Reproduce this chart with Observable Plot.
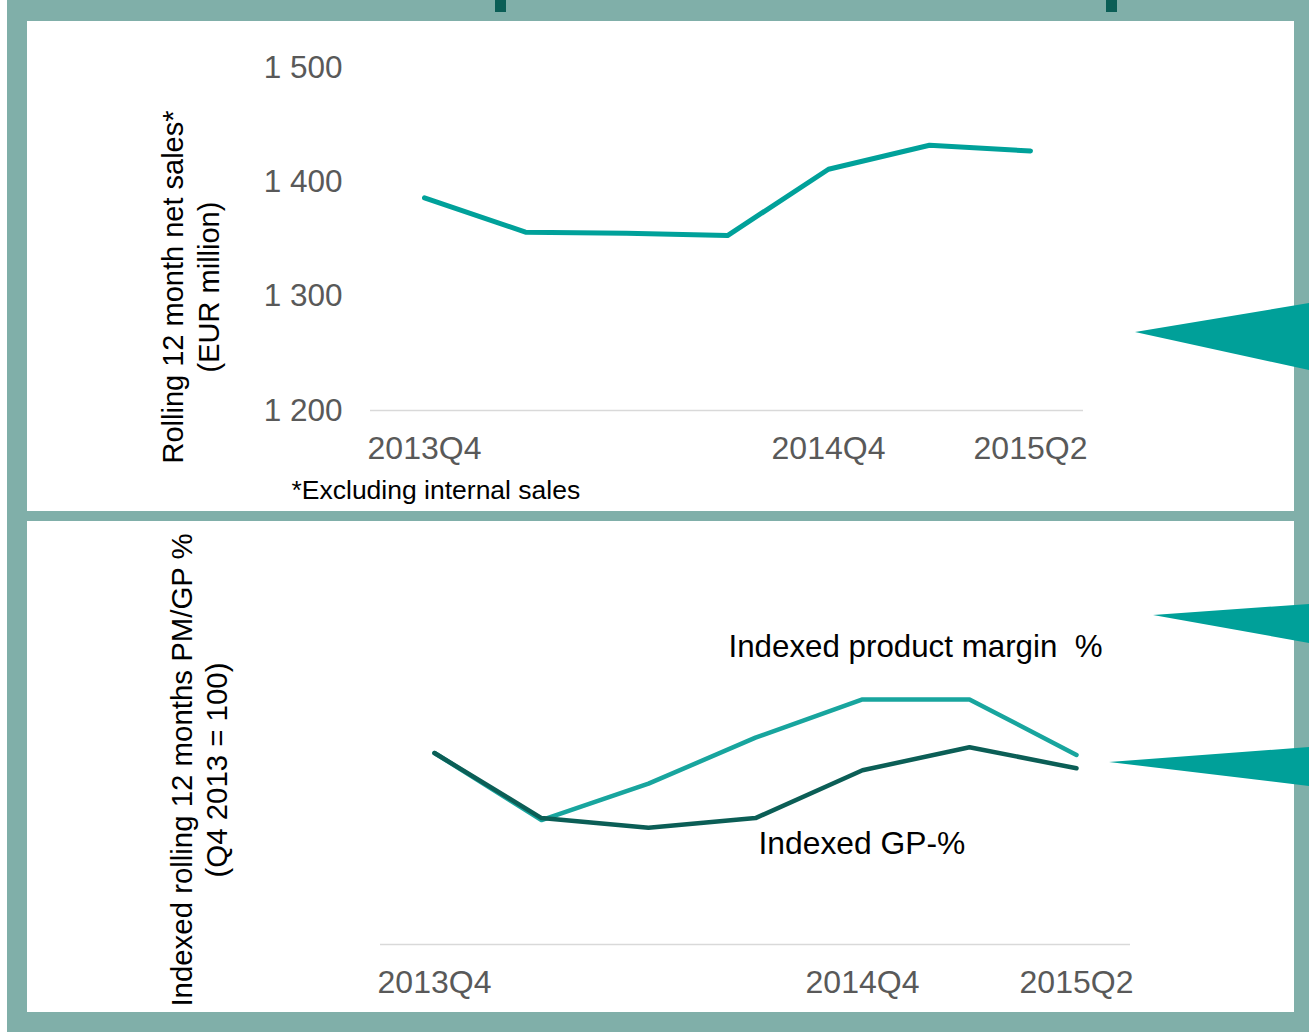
<!DOCTYPE html>
<html>
<head>
<meta charset="utf-8">
<script src="https://cdn.jsdelivr.net/npm/d3@7"></script>
<script src="https://cdn.jsdelivr.net/npm/@observablehq/plot@0.6"></script>
<style>
  html, body { margin: 0; padding: 0; background: #ffffff; }
  #page { position: relative; width: 1309px; height: 1032px; overflow: hidden; background: #ffffff; }
  .frame { position: absolute; left: 7px; top: 0; width: 1302px; height: 1032px; background: #80afa9; }
  .panel { position: absolute; left: 27px; width: 1267px; background: #ffffff; }
  #top { top: 21px; height: 490px; }
  #bottom { top: 521px; height: 491px; }
  .panel svg { display: block; }
  #deco { position: absolute; left: 0; top: 0; pointer-events: none; }
</style>
</head>
<body>
<div id="page">
  <div class="frame"></div>
  <div class="panel" id="top"></div>
  <div class="panel" id="bottom"></div>
</div>
<script>
// Quarters on the x axis and the ones that carry a label
const quarters = ["2013Q4", "2014Q1", "2014Q2", "2014Q3", "2014Q4", "2015Q1", "2015Q2"];
const labelledQuarters = ["2013Q4", "2014Q4", "2015Q2"];

// Rolling 12 month net sales, EUR million (excluding internal sales)
const netSales = [1386, 1356, 1355, 1353, 1411, 1432, 1427];
const salesTicks = [1200, 1300, 1400, 1500];

// Indexed rolling 12 month margins, Q4 2013 = 100
const productMargin = [100, 96.5, 98.4, 100.8, 102.8, 102.8, 99.9];
const grossProfit = [100, 96.6, 96.1, 96.6, 99.1, 100.3, 99.2];
const indexDomain = [90, 110];

const teal = "#00a19a";
const darkTeal = "#0b5e56";
const lightTeal = "#18a59e";
const grey = "#595959";
const font = "'Liberation Sans', Arial, sans-serif";

const spaced = d => d3.format(",")(d).replace(/,/g, " ");

// --- Net sales panel ---
const salesRows = quarters.map((q, i) => ({quarter: q, value: netSales[i]}));

const topChart = Plot.plot({
  width: 1267,
  height: 490,
  marginLeft: 343,
  marginRight: 211,
  marginTop: 46,
  marginBottom: 101,
  style: {fontFamily: font, background: "transparent", overflow: "visible"},
  x: {type: "point", domain: quarters, padding: 0.5},
  y: {domain: [1200, 1500]},
  marks: [
    Plot.ruleY([1200], {stroke: "#d9d9d9", strokeWidth: 1.5}),
    Plot.axisY(salesTicks, {tickSize: 0, tickPadding: 28, fontSize: 31.5, color: grey, tickFormat: spaced, label: null}),
    Plot.axisX(labelledQuarters, {tickSize: 0, tickPadding: 26, fontSize: 32, color: grey, label: null}),
    Plot.line(salesRows, {x: "quarter", y: "value", stroke: teal, strokeWidth: 5, strokeLinecap: "round", strokeLinejoin: "round"}),
    Plot.text(["Rolling 12 month net sales*\n(EUR million)"], {
      frameAnchor: "left", rotate: -90, textAnchor: "middle", lineHeight: 1.25,
      fontSize: 29, fill: "#000", dx: -181, dy: 48
    }),
    Plot.text(["*Excluding internal sales"], {
      frameAnchor: "bottom-left", textAnchor: "start", fontSize: 26.5, fill: "#000", dx: -79, dy: 88
    })
  ]
});
document.getElementById("top").append(topChart);

// --- Indexed margin panel ---
const marginRows = [
  ...quarters.map((q, i) => ({quarter: q, value: productMargin[i], series: "Indexed product margin  %"})),
  ...quarters.map((q, i) => ({quarter: q, value: grossProfit[i], series: "Indexed GP-%"}))
];

const bottomChart = Plot.plot({
  width: 1267,
  height: 491,
  marginLeft: 353,
  marginRight: 164,
  marginTop: 40,
  marginBottom: 68,
  style: {fontFamily: font, background: "transparent", overflow: "visible"},
  x: {type: "point", domain: quarters, padding: 0.5},
  y: {domain: indexDomain, axis: null},
  color: {domain: ["Indexed product margin  %", "Indexed GP-%"], range: [lightTeal, darkTeal]},
  marks: [
    Plot.ruleY([indexDomain[0]], {stroke: "#d9d9d9", strokeWidth: 1.5}),
    Plot.axisX(labelledQuarters, {tickSize: 0, tickPadding: 26, fontSize: 32, color: grey, label: null}),
    Plot.line(marginRows, {x: "quarter", y: "value", z: "series", stroke: "series", strokeWidth: 4.5, strokeLinejoin: "round"}),
    Plot.text(["Indexed product margin  %"], {
      frameAnchor: "top-left", textAnchor: "start", fontSize: 31.3, fill: "#000", dx: 348, dy: 73
    }),
    Plot.text(["Indexed GP-%"], {
      frameAnchor: "top-left", textAnchor: "start", fontSize: 31.8, fill: "#000", dx: 378, dy: 270
    }),
    Plot.text(["Indexed rolling 12 months PM/GP %\n(Q4 2013 = 100)"], {
      frameAnchor: "left", rotate: -90, textAnchor: "middle", lineHeight: 1.2,
      fontSize: 29.4, fill: "#000", dx: -182, dy: 17
    })
  ]
});
document.getElementById("bottom").append(bottomChart);

// --- Frame decorations: marker bars and pointer triangles ---
const deco = d3.select("#page").append("svg")
  .attr("id", "deco")
  .attr("width", 1309)
  .attr("height", 1032);

deco.selectAll("rect.marker")
  .data([495, 1106])
  .join("rect")
  .attr("class", "marker")
  .attr("x", d => d)
  .attr("y", 0)
  .attr("width", 11)
  .attr("height", 12)
  .attr("fill", darkTeal);

const pointers = [
  [[1135, 332], [1309, 303], [1309, 370]],
  [[1153, 615], [1309, 604], [1309, 643]],
  [[1109, 762], [1309, 747], [1309, 786]]
];
deco.selectAll("polygon")
  .data(pointers)
  .join("polygon")
  .attr("points", d => d.map(p => p.join(",")).join(" "))
  .attr("fill", "#00a099");
</script>
</body>
</html>
